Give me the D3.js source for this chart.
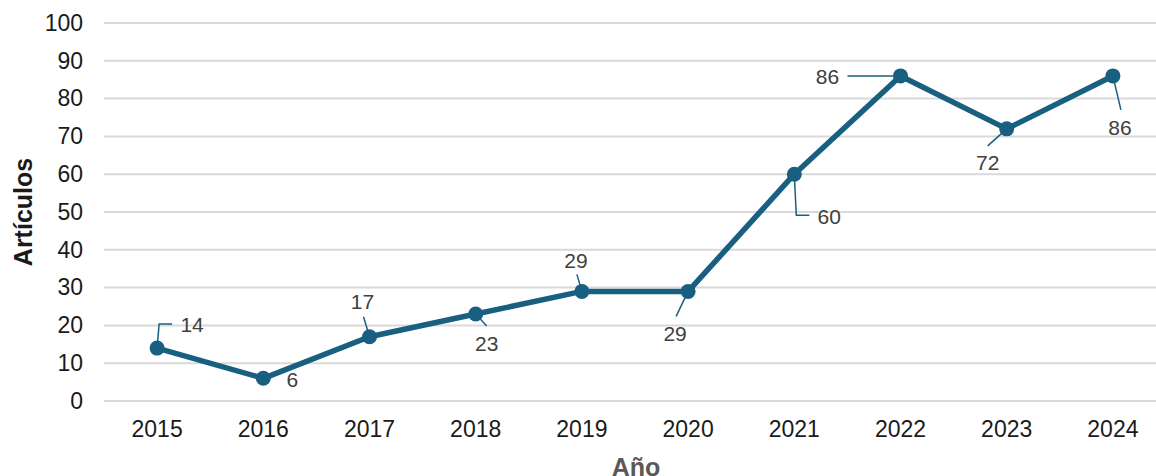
<!DOCTYPE html>
<html>
<head>
<meta charset="utf-8">
<script src="https://cdn.jsdelivr.net/npm/d3@7"></script>
<style>
  html, body { margin: 0; padding: 0; background: #fff; }
  svg { display: block; font-family: "Liberation Sans", Arial, sans-serif; }
</style>
</head>
<body>
<svg id="chart" width="1156" height="476"></svg>
<script>
// Annual article counts
const years = ["2015", "2016", "2017", "2018", "2019", "2020", "2021", "2022", "2023", "2024"];
const articles = [14, 6, 17, 23, 29, 29, 60, 86, 72, 86];
const yTicks = [0, 10, 20, 30, 40, 50, 60, 70, 80, 90, 100];
const xTitle = "Año";
const yTitle = "Artículos";

// Data-label placement: text centre offset from the marker and leader polyline (relative to marker)
const labelLayout = [
  { dx: 35, dy: -23, leader: [[0, 0], [2, -24], [15, -24]] },
  { dx: 29, dy: 1, leader: null },
  { dx: -7, dy: -35, leader: [[0, 0], [-6, -20]] },
  { dx: 11, dy: 30, leader: [[0, 0], [11, 12]] },
  { dx: -6, dy: -31, leader: [[0, 0], [-5, -17]] },
  { dx: -13, dy: 42, leader: [[0, 0], [-12, 25]] },
  { dx: 35, dy: 42, leader: [[0, 0], [2, 41], [15, 41]] },
  { dx: -73, dy: 1, leader: [[0, 0], [-53, 0]] },
  { dx: -19, dy: 34, leader: [[0, 0], [-19, 17]] },
  { dx: 7, dy: 52, leader: [[0, 0], [8, 34]] }
];

const svg = d3.select("#chart");
const x = d3.scaleBand().domain(years).range([104, 1166]);
const y = d3.scaleLinear().domain([0, 100]).range([401, 23]);
const cx = d => x(d) + x.bandwidth() / 2;

const lineColor = "#195f80";
const font = "Liberation Sans, Arial, sans-serif";

// Horizontal gridlines
svg.append("g")
  .selectAll("line")
  .data(yTicks)
  .join("line")
  .attr("x1", 104).attr("x2", 1166)
  .attr("y1", d => y(d)).attr("y2", d => y(d))
  .attr("stroke", "#d9d9d9")
  .attr("stroke-width", 2);

// Y axis labels
const yAxis = svg.append("g")
  .attr("transform", "translate(83,0)")
  .call(d3.axisLeft(y).tickValues(yTicks).tickSize(0).tickPadding(0));
yAxis.select(".domain").remove();
yAxis.selectAll("text")
  .attr("font-size", 23)
  .attr("fill", "#1a1a1a")
  .attr("font-family", font);

// X axis labels
const xAxis = svg.append("g")
  .attr("transform", "translate(0,421)")
  .call(d3.axisBottom(x).tickSize(0).tickPadding(0));
xAxis.select(".domain").remove();
xAxis.selectAll("text")
  .attr("font-size", 23)
  .attr("fill", "#1a1a1a")
  .attr("font-family", font);

// Axis titles
svg.append("text")
  .attr("x", 636).attr("y", 476)
  .attr("text-anchor", "middle")
  .attr("font-size", 25)
  .attr("font-weight", "bold")
  .attr("fill", "#595959")
  .attr("font-family", font)
  .text(xTitle);

svg.append("text")
  .attr("transform", "translate(32,212) rotate(-90)")
  .attr("text-anchor", "middle")
  .attr("font-size", 25)
  .attr("font-weight", "bold")
  .attr("fill", "#1a1a1a")
  .attr("font-family", font)
  .text(yTitle);

// Series line
const line = d3.line()
  .x((d, i) => cx(years[i]))
  .y(d => y(d));

svg.append("path")
  .datum(articles)
  .attr("d", line)
  .attr("fill", "none")
  .attr("stroke", lineColor)
  .attr("stroke-width", 5.5)
  .attr("stroke-linejoin", "round");

// Markers
svg.append("g")
  .selectAll("circle")
  .data(articles)
  .join("circle")
  .attr("cx", (d, i) => cx(years[i]))
  .attr("cy", d => y(d))
  .attr("r", 7.5)
  .attr("fill", lineColor);

// Leader lines
const leaderLine = d3.line();
svg.append("g")
  .selectAll("path")
  .data(articles.map((v, i) => ({ v, i })).filter(d => labelLayout[d.i].leader))
  .join("path")
  .attr("d", d => {
    const px = cx(years[d.i]), py = y(d.v);
    return leaderLine(labelLayout[d.i].leader.map(([a, b]) => [px + a, py + b]));
  })
  .attr("fill", "none")
  .attr("stroke", lineColor)
  .attr("stroke-width", 1.5);

// Data labels
svg.append("g")
  .selectAll("text")
  .data(articles)
  .join("text")
  .attr("x", (d, i) => cx(years[i]) + labelLayout[i].dx)
  .attr("y", (d, i) => y(d) + labelLayout[i].dy)
  .attr("dy", "0.35em")
  .attr("text-anchor", "middle")
  .attr("font-size", 21)
  .attr("fill", "#404040")
  .attr("font-family", font)
  .text(d => d);
</script>
</body>
</html>
